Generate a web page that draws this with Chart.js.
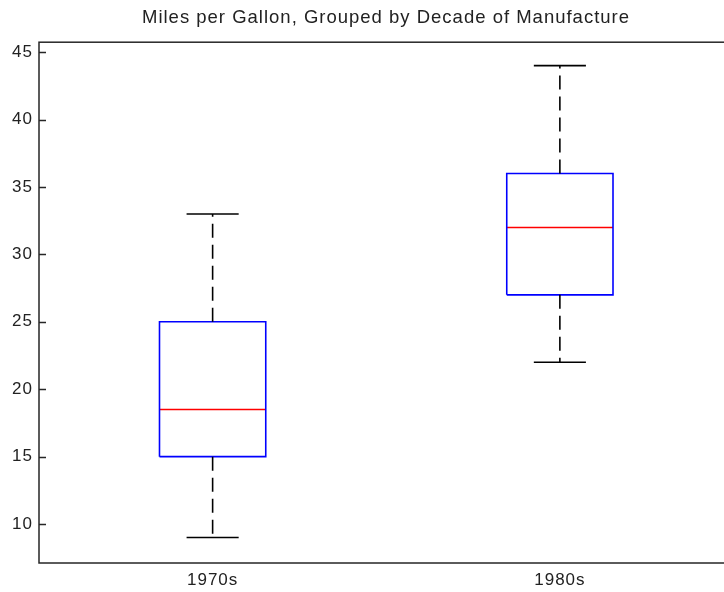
<!DOCTYPE html>
<html>
<head>
<meta charset="utf-8">
<script src="https://cdn.jsdelivr.net/npm/chart.js@4.4.0/dist/chart.umd.min.js"></script>
<style>
  html, body { margin: 0; padding: 0; background: #fff; overflow: hidden; }
  #wrap { width: 772px; height: 592px; }
</style>
</head>
<body>
<div id="wrap"><canvas id="mpgChart" width="772" height="592"></canvas></div>
<script>
// Boxplot summary values
const decades = ['1970s', '1980s'];
const lowerWhisker = [9, 22];
const lowerQuartile = [15, 27];
const medianMpg = [18.5, 32];
const upperQuartile = [25, 36];
const upperWhisker = [33, 44];
const yTicks = [10, 15, 20, 25, 30, 35, 40, 45];

const FONT = 'Liberation Sans, Arial, sans-serif';
const BOX_HALF = 0.153;
const CAP_HALF = 0.075;

// build line segments for each box from the arrays above
const buildDatasets = () => {
  const sets = [];
  const seg = (pts, color, dash) => ({
    data: pts.map(p => ({ x: p[0], y: p[1] })),
    showLine: true,
    borderColor: color,
    borderWidth: 1.6,
    borderDash: dash || [],
    pointRadius: 0,
    fill: false
  });
  decades.forEach((d, i) => {
    const c = i + 1;
    sets.push(seg([[c, upperQuartile[i]], [c, upperWhisker[i]]], '#000', [14, 7]));
    sets.push(seg([[c, lowerQuartile[i]], [c, lowerWhisker[i]]], '#000', [14, 7]));
    sets.push(seg([[c - CAP_HALF, upperWhisker[i]], [c + CAP_HALF, upperWhisker[i]]], '#000'));
    sets.push(seg([[c - CAP_HALF, lowerWhisker[i]], [c + CAP_HALF, lowerWhisker[i]]], '#000'));
    sets.push(seg([
      [c - BOX_HALF, lowerQuartile[i]], [c + BOX_HALF, lowerQuartile[i]],
      [c + BOX_HALF, upperQuartile[i]], [c - BOX_HALF, upperQuartile[i]],
      [c - BOX_HALF, lowerQuartile[i]]
    ], '#0000ff'));
    sets.push(seg([[c - BOX_HALF, medianMpg[i]], [c + BOX_HALF, medianMpg[i]]], '#ff0000'));
  });
  return sets;
};

// the old matlab fonts are spaced out a bit
const spacing = {
  id: 'spacing',
  beforeUpdate(chart) { chart.ctx.letterSpacing = '1px'; },
  beforeDraw(chart) { chart.ctx.letterSpacing = '1px'; }
};

// frame + inward tick marks, matlab style
const axesFrame = {
  id: 'axesFrame',
  afterDraw(chart) {
    const { ctx, chartArea: a, scales } = chart;
    ctx.save();
    ctx.strokeStyle = '#262626';
    ctx.lineWidth = 1.5;
    ctx.strokeRect(a.left, a.top, a.right - a.left, a.bottom - a.top);
    ctx.beginPath();
    yTicks.forEach(v => {
      const y = Math.round(scales.y.getPixelForValue(v)) + 0.5;
      ctx.moveTo(a.left, y);
      ctx.lineTo(a.left + 7, y);
      ctx.moveTo(a.right, y);
      ctx.lineTo(a.right - 7, y);
    });
    ctx.stroke();
    ctx.restore();
  }
};

new Chart(document.getElementById('mpgChart'), {
  type: 'scatter',
  data: { datasets: buildDatasets() },
  options: {
    responsive: false,
    animation: false,
    events: [],
    layout: { padding: 0 },
    plugins: {
      legend: { display: false },
      tooltip: { enabled: false },
      title: {
        display: true,
        text: 'Miles per Gallon, Grouped by Decade of Manufacture',
        color: '#222',
        font: { family: FONT, size: 18.5, weight: 'normal' },
        padding: { top: 7, bottom: 13 }
      }
    },
    scales: {
      x: {
        type: 'linear',
        min: 0.5,
        max: 2.5,
        afterBuildTicks: s => { s.ticks = decades.map((d, i) => ({ value: i + 1 })); },
        afterFit: s => { s.height = 29; },
        grid: { display: false, drawTicks: false },
        border: { display: false },
        ticks: {
          padding: 7,
          color: '#222',
          font: { family: FONT, size: 17 },
          callback: v => decades[v - 1] || ''
        }
      },
      y: {
        min: 7.11,
        max: 45.74,
        afterBuildTicks: s => { s.ticks = yTicks.map(v => ({ value: v })); },
        afterFit: s => { s.width = 39; },
        grid: { display: false, drawTicks: false },
        border: { display: false },
        ticks: {
          padding: 6,
          color: '#222',
          font: { family: FONT, size: 17 }
        }
      },
      // empty right axis, just keeps the room on the right (off screen)
      yRight: {
        position: 'right',
        min: 7.11,
        max: 45.74,
        afterFit: s => { s.width = 38.5; },
        grid: { display: false, drawTicks: false },
        border: { display: false },
        ticks: { display: false }
      }
    }
  },
  plugins: [spacing, axesFrame]
});
</script>
</body>
</html>
